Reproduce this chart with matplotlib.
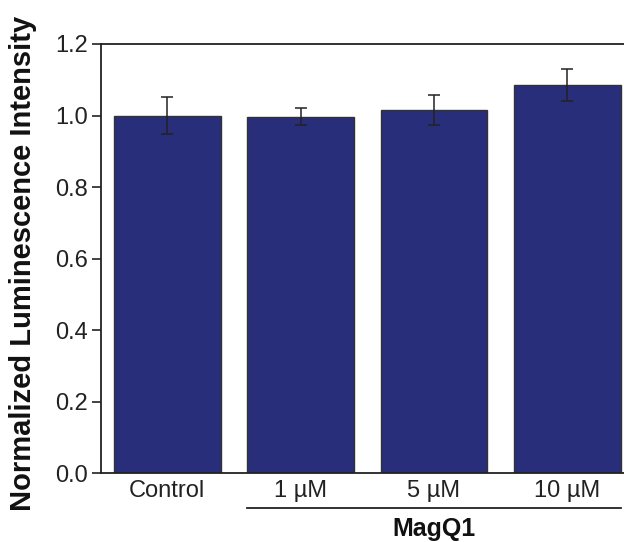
import matplotlib
matplotlib.use("Agg")
import matplotlib.pyplot as plt
import matplotlib.transforms as mtransforms

categories = ["Control", "1 µM", "5 µM", "10 µM"]
values = [1.000, 0.997, 1.015, 1.086]
errors = [0.051, 0.023, 0.042, 0.045]
yticks = [0.0, 0.2, 0.4, 0.6, 0.8, 1.0, 1.2]
group_label = "MagQ1"

plt.rcParams['font.family'] = ['Liberation Sans', 'DejaVu Sans']

W, H = 624, 542
fig = plt.figure(figsize=(W/100, H/100), dpi=100)
ax = fig.add_axes([100.7/W, (H-473.3)/H, (W-100.7)/W, (473.3-44)/H])

x = list(range(len(categories)))
ax.bar(x, values, width=0.8, color="#282E79", edgecolor="#333333", linewidth=1.0,
       yerr=errors, error_kw=dict(ecolor="#222222", elinewidth=1.1, capsize=4, capthick=1.1), zorder=2)

ax.set_xlim(-0.5, (W-167.3)/133.3)
ax.set_ylim(0, 1.2)
ax.set_yticks(yticks)
ax.set_yticklabels([f"{v:.1f}" for v in yticks])
ax.set_xticks(x)
ax.set_xticklabels(categories)

ax.spines["right"].set_visible(False)
for s in ["left", "top", "bottom"]:
    ax.spines[s].set_linewidth(1.3)
    ax.spines[s].set_color("#222222")

ax.tick_params(axis="y", direction="out", length=6.5, width=1.2, labelsize=17, pad=3, colors="#222222")
ax.tick_params(axis="x", length=0, labelsize=17, pad=5, colors="#222222")

ax.set_ylabel("Normalized Luminescence Intensity", fontsize=21, fontweight="bold", color="#111111")
ax.yaxis.set_label_coords(-(100.7-37)/(W-100.7), 0.5 - (263.5-258.6)/429.3)

trans = mtransforms.blended_transform_factory(ax.transData, ax.transAxes)
ax.plot([0.6, 3.4], [-0.0815, -0.0815], transform=trans, color="#222222", lw=1.3, clip_on=False)
ax.text(2.0, -0.13, group_label, transform=trans, ha="center", va="center",
        fontsize=18, fontweight="bold", color="#111111")

fig.savefig("out.png", dpi=100)
